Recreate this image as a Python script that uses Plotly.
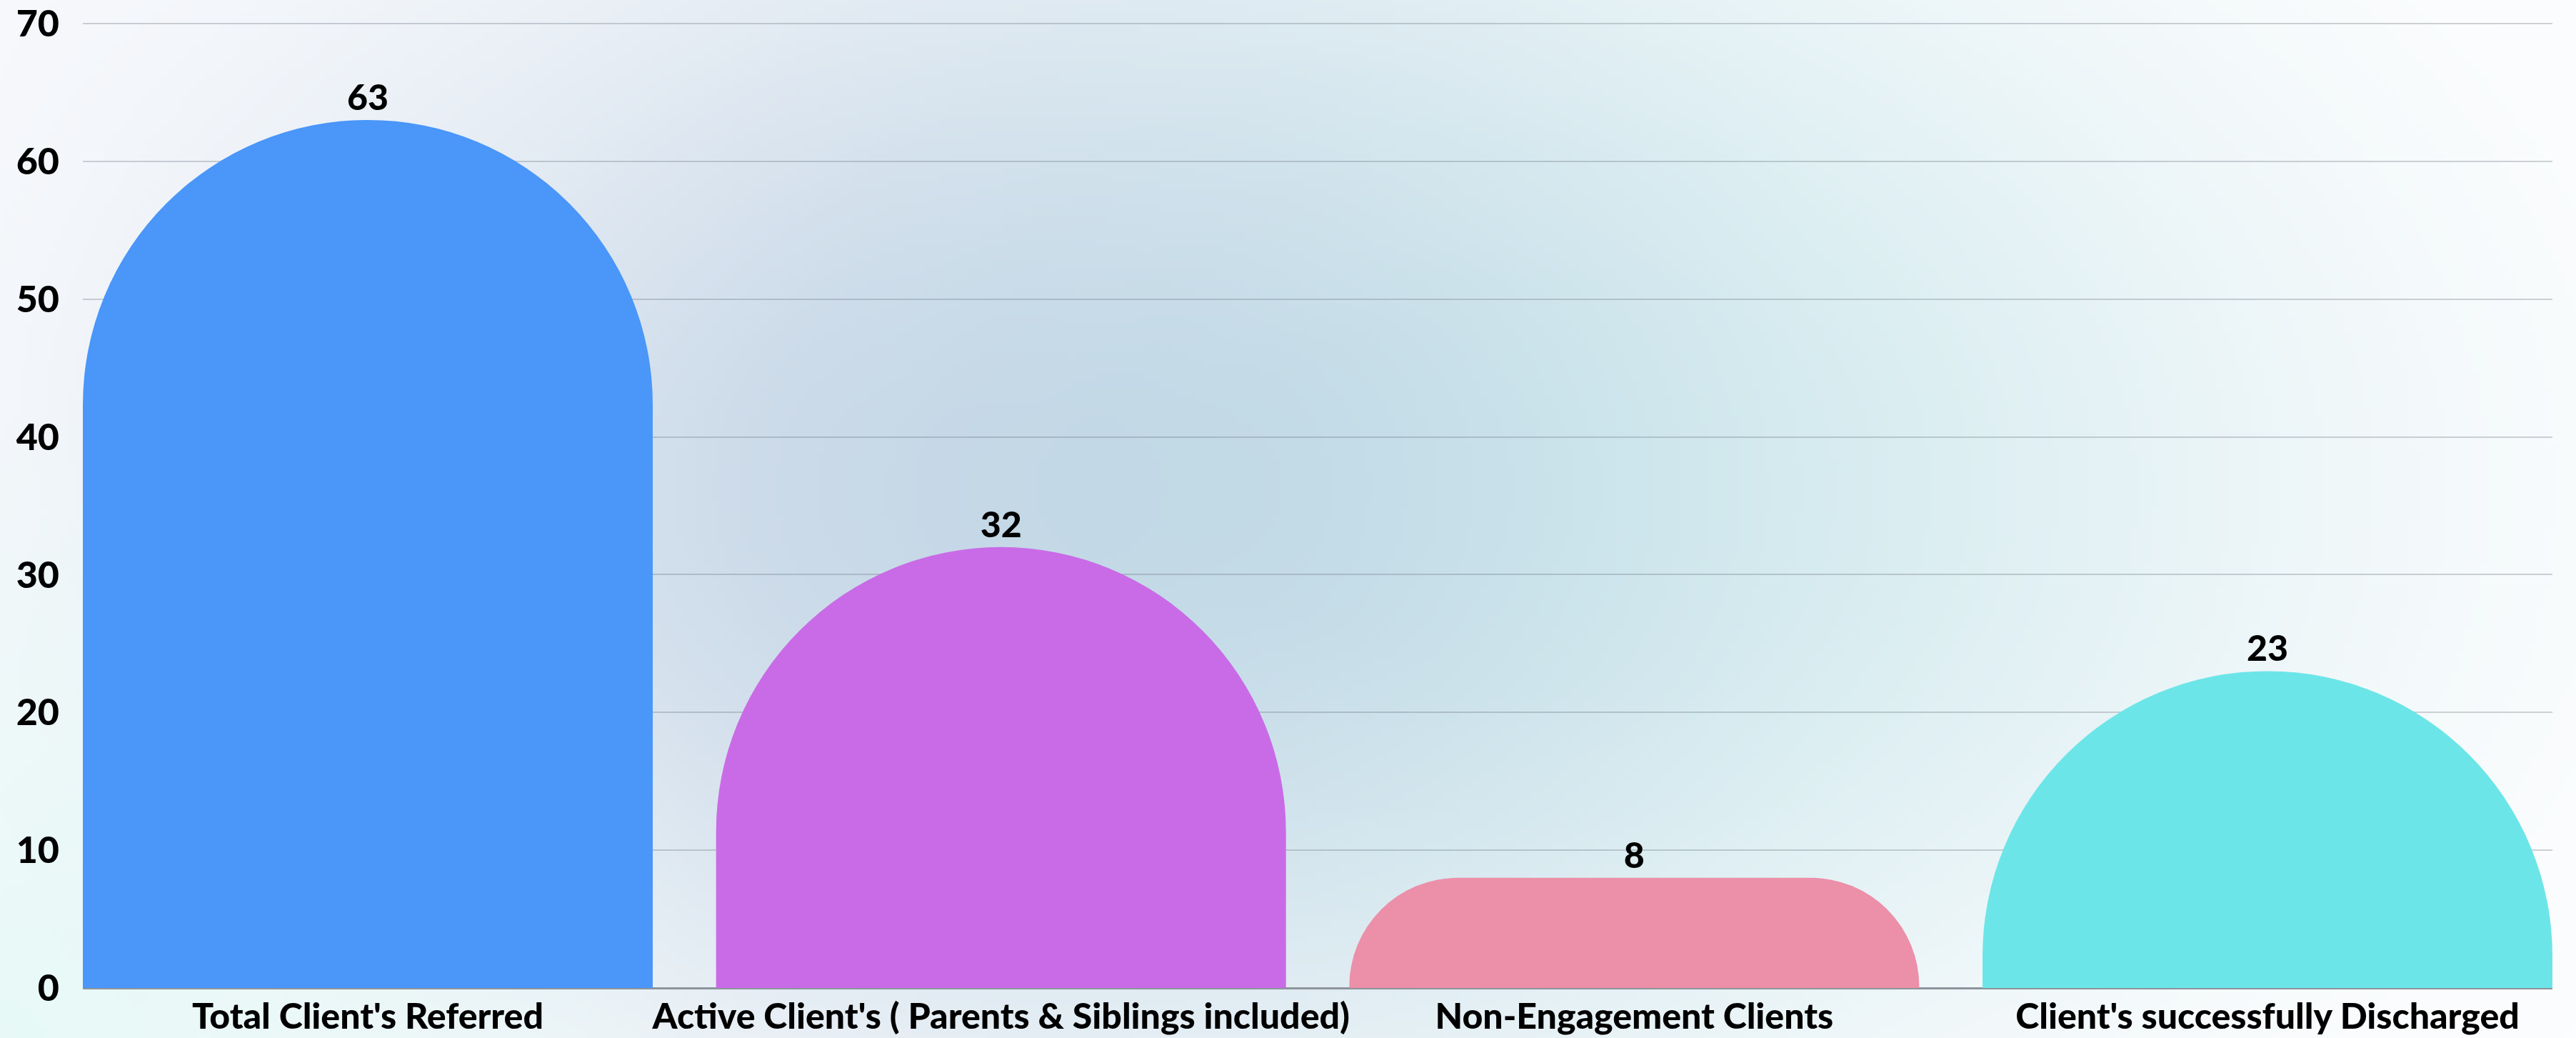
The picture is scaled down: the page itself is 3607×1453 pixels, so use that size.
import base64
import struct
import zlib

import numpy as np
import plotly.graph_objects as go

categories = [
    "Total Client's Referred",
    "Active Client's ( Parents & Siblings included)",
    "Non-Engagement Clients",
    "Client's successfully Discharged",
]
values = [63, 32, 8, 23]
colors = ["#4a96f9", "#c96be6", "#ec8fa9", "#6ce5e8"]
y_ticks = [0, 10, 20, 30, 40, 50, 60, 70]

W, H = 3607, 1453
FONT = "Lato"

# plot area in pixels
x_left, x_right = 116, 3574
y_top, y_base = 31, 1383
y_max = 70.1
px_per_unit = (y_base - y_top) / y_max
bar_px = 0.9 * (x_right - x_left) / 3.9


def png_data_uri(img):
    h, w, _ = img.shape
    raw = b"".join(b"\x00" + img[i].tobytes() for i in range(h))

    def chunk(tag, data):
        return (struct.pack(">I", len(data)) + tag + data
                + struct.pack(">I", zlib.crc32(tag + data) & 0xffffffff))

    png = (b"\x89PNG\r\n\x1a\n"
           + chunk(b"IHDR", struct.pack(">IIBBBBB", w, h, 8, 2, 0, 0, 0))
           + chunk(b"IDAT", zlib.compress(raw, 9))
           + chunk(b"IEND", b""))
    return "data:image/png;base64," + base64.b64encode(png).decode()


def background():
    # soft radial glow, bluish in the middle, white/mint at the edges
    gw, gh = 361, 146
    xs = np.linspace(0, 1, gw)[None, :]
    ys = np.linspace(0, 1, gh)[:, None]
    d = np.sqrt(((xs - 0.48) / 0.62) ** 2 + ((ys - 0.47) / 0.95) ** 2)
    t = np.clip(d, 0, 1)
    t = t * t * (3 - 2 * t)
    centre_l = np.array([192, 210, 228.0])
    centre_r = np.array([198, 228, 234.0])
    mix = np.clip((xs - 0.3) / 0.4, 0, 1)[..., None]
    centre = centre_l * (1 - mix) + centre_r * mix
    edge = np.array([252, 253, 254.0])
    img = centre * (1 - t[..., None]) + edge * t[..., None]
    # lavender tint towards the top left
    lav = np.clip(1 - np.sqrt((xs / 0.35) ** 2 + (ys / 0.6) ** 2), 0, 1)[..., None]
    img = img * (1 - 0.3 * lav) + np.array([236, 239, 248.0]) * 0.3 * lav
    # mint tint in the bottom left
    mint = np.clip(1 - np.sqrt((xs / 0.3) ** 2 + ((1 - ys) / 0.6) ** 2), 0, 1)[..., None]
    img = img * (1 - 0.8 * mint) + np.array([226, 248, 245.0]) * 0.8 * mint
    return np.clip(img, 0, 255).astype(np.uint8)


fig = go.Figure()
for i, (cat, val, col) in enumerate(zip(categories, values, colors)):
    radius = min(bar_px / 2, val * px_per_unit - 2)
    fig.add_trace(go.Bar(
        x=[cat], y=[val],
        marker=dict(color=col, line=dict(width=0), cornerradius=int(radius)),
        text=[str(val)], textposition="outside",
        textfont=dict(family=FONT, size=50, color="#000000", weight=900),
        cliponaxis=False,
        showlegend=False,
    ))

fig.update_layout(
    width=W, height=H,
    margin=dict(l=0, r=0, t=0, b=0),
    template="none",
    paper_bgcolor="#ffffff",
    plot_bgcolor="rgba(0,0,0,0)",
    barmode="overlay",
    bargap=0.1,
    images=[dict(source=png_data_uri(background()), xref="paper", yref="paper",
                 x=0, y=1, sizex=1, sizey=1, xanchor="left", yanchor="top",
                 sizing="stretch", layer="below")],
    xaxis=dict(
        domain=[x_left / W, x_right / W],
        range=[-0.45, 3.45],
        showgrid=False, zeroline=False, showline=False, ticks="",
        automargin=False,
        tickfont=dict(family=FONT, size=50, color="#000000", weight=900),
        ticklabelstandoff=6,
    ),
    yaxis=dict(
        domain=[(H - y_base) / H, (H - y_top) / H],
        range=[0, y_max],
        tickvals=y_ticks,
        showgrid=True, gridcolor="rgba(100,110,120,0.3)", gridwidth=2,
        zeroline=True, zerolinecolor="#8c959b", zerolinewidth=3,
        showline=False, ticks="",
        automargin=False,
        tickfont=dict(family=FONT, size=52, color="#000000", weight=900),
        ticklabelstandoff=32,
    ),
)

fig.write_html("out.html", config={"displayModeBar": False},
               post_script="document.body.style.margin='0';")
